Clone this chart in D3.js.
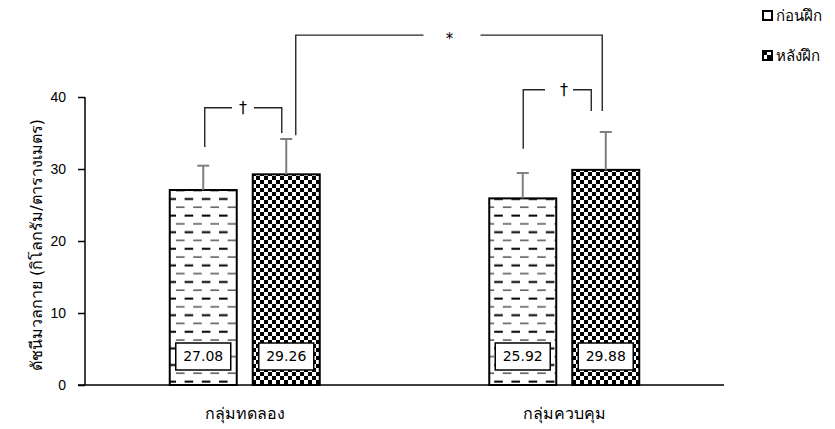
<!DOCTYPE html>
<html lang="th">
<head>
  <meta charset="UTF-8" />
  <title>ดัชนีมวลกาย</title>
  <style>
    body {
      margin: 0;
      background: white;
      font-family: Tahoma, "DejaVu Sans", sans-serif;
    }
    svg { display: block; }
    .tick-label, .bar-label {
      font-size: 14px;
      fill: #000;
    }
    .group-label, .y-title {
      font-size: 16px;
      fill: #000;
    }
    .legend-label {
      font-size: 15px;
      fill: #000;
    }
  </style>
</head>
<body>
  <svg width="835" height="429"></svg>

  <script src="https://d3js.org/d3.v7.min.js"></script>
  <script>
    // data
    const groups = ["กลุ่มทดลอง", "กลุ่มควบคุม"];
    const series = ["ก่อนฝึก", "หลังฝึก"];
    const means = [[27.08, 29.26], [25.92, 29.88]];
    const sds = [[3.38, 4.91], [3.52, 5.26]];
    const yTicks = [0, 10, 20, 30, 40];
    const yTitle = "ดัชนีมวลกาย (กิโลกรัม/ตารางเมตร)";

    // significance brackets: from bar -> to bar, heights in data units
    const brackets = [
      { from: [0, 0], to: [0, 1], top: 38.5, footL: 33.05, footR: 35.0, label: "†" },
      { from: [1, 0], to: [1, 1], top: 41.0, footL: 32.8, footR: 38.05, label: "†" },
      { from: [0, 1], to: [1, 1], top: 48.6, footL: 34.7, footR: 38.05, label: "*" }
    ];
    // pixel nudges for bracket ends and the gap around the label
    const bracketLayout = [
      { dl: 1.5, dr: -4.5, gapL: 11, gapR: 11, lx: 243 },
      { dl: 0.5, dr: -14.5, gapL: 19, gapR: 9, lx: 564 },
      { dl: 9.5, dr: -3.5, gapL: 26, gapR: 31, lx: 449.5 }
    ];

    const svg = d3.select("svg");
    const defs = svg.append("defs");

    // dashed horizontal pattern
    const dash = defs.append("pattern")
      .attr("id", "dash")
      .attr("patternUnits", "userSpaceOnUse")
      .attr("x", 4).attr("y", 4)
      .attr("width", 17.2).attr("height", 16.6);
    dash.append("rect").attr("width", 17.2).attr("height", 16.6).attr("fill", "#fff");
    dash.append("rect").attr("x", 0).attr("y", 3.5).attr("width", 8.6).attr("height", 1).attr("fill", "#000");
    dash.append("rect").attr("x", 8.6).attr("y", 11.4).attr("width", 8.6).attr("height", 2).attr("fill", "#000");

    // checker pattern
    const check = defs.append("pattern")
      .attr("id", "check")
      .attr("patternUnits", "userSpaceOnUse")
      .attr("width", 8).attr("height", 8);
    check.append("rect").attr("width", 8).attr("height", 8).attr("fill", "#fff");
    check.append("rect").attr("width", 4).attr("height", 4).attr("fill", "#000");
    check.append("rect").attr("x", 4).attr("y", 4).attr("width", 4).attr("height", 4).attr("fill", "#000");

    const fills = ["url(#dash)", "url(#check)"];

    const x0 = d3.scaleBand().domain(groups).range([85, 724]);
    const inner = 150;
    const x1 = d3.scaleBand().domain(series)
      .range([(x0.bandwidth() - inner) / 2, (x0.bandwidth() + inner) / 2])
      .paddingInner(0.193);
    const y = d3.scaleLinear().domain([0, 40]).range([385, 97]);

    const barX = (g, s) => x0(groups[g]) + x1(series[s]);
    const barC = (g, s) => barX(g, s) + x1.bandwidth() / 2;

    const rows = [];
    groups.forEach((g, gi) => series.forEach((s, si) => {
      rows.push({ gi, si, mean: means[gi][si], sd: sds[gi][si] });
    }));

    // bars
    svg.append("g")
      .selectAll("rect")
      .data(rows)
      .join("rect")
        .attr("x", d => barX(d.gi, d.si))
        .attr("y", d => y(d.mean))
        .attr("width", x1.bandwidth())
        .attr("height", d => y(0) - y(d.mean))
        .attr("fill", d => fills[d.si])
        .attr("stroke", "#000")
        .attr("stroke-width", 2);

    // error bars
    const err = svg.append("g")
      .attr("stroke", "#7f7f7f")
      .attr("stroke-width", 2);
    err.selectAll("line.v")
      .data(rows)
      .join("line")
        .attr("class", "v")
        .attr("x1", d => barC(d.gi, d.si))
        .attr("x2", d => barC(d.gi, d.si))
        .attr("y1", d => y(d.mean))
        .attr("y2", d => y(d.mean + d.sd));
    err.selectAll("line.cap")
      .data(rows)
      .join("line")
        .attr("class", "cap")
        .attr("x1", d => barC(d.gi, d.si) - 6)
        .attr("x2", d => barC(d.gi, d.si) + 6)
        .attr("y1", d => y(d.mean + d.sd))
        .attr("y2", d => y(d.mean + d.sd));

    // value labels
    const lab = svg.append("g")
      .selectAll("g")
      .data(rows)
      .join("g");
    lab.append("rect")
      .attr("x", d => barX(d.gi, d.si) + 6)
      .attr("y", y(0) - 42)
      .attr("width", x1.bandwidth() - 12)
      .attr("height", 27)
      .attr("fill", "#fff")
      .attr("stroke", "#000")
      .attr("stroke-width", 1.5);
    lab.append("text")
      .attr("class", "bar-label")
      .attr("x", d => barC(d.gi, d.si))
      .attr("y", y(0) - 28.5)
      .attr("dy", "0.35em")
      .attr("text-anchor", "middle")
      .text(d => d.mean.toFixed(2));

    // axes
    const yAxis = svg.append("g")
      .attr("transform", "translate(85,0)")
      .call(d3.axisLeft(y).tickValues(yTicks).tickSize(7).tickPadding(12));
    yAxis.select(".domain").attr("stroke", "#000").attr("stroke-width", 1.5).attr("d", `M0,${y(40)}V${y(0)}`);
    yAxis.selectAll(".tick line").attr("stroke", "#000").attr("stroke-width", 1.5);
    yAxis.selectAll(".tick text").attr("class", "tick-label").attr("font-family", null).attr("font-size", null);

    svg.append("line")
      .attr("x1", 78).attr("x2", 724)
      .attr("y1", y(0)).attr("y2", y(0))
      .attr("stroke", "#000").attr("stroke-width", 1.5);

    svg.append("g")
      .selectAll("text")
      .data(groups)
      .join("text")
        .attr("class", "group-label")
        .attr("x", d => x0(d) + x0.bandwidth() / 2)
        .attr("y", 419)
        .attr("text-anchor", "middle")
        .text(d => d);

    svg.append("text")
      .attr("class", "y-title")
      .attr("transform", `translate(42,${(y(0) + y(40)) / 2 + 4}) rotate(-90)`)
      .attr("text-anchor", "middle")
      .text(yTitle);

    // brackets
    const br = svg.append("g")
      .attr("fill", "none")
      .attr("stroke", "#262626")
      .attr("stroke-width", 1.4);
    brackets.forEach((b, i) => {
      const L = bracketLayout[i];
      const xl = barC(b.from[0], b.from[1]) + L.dl;
      const xr = barC(b.to[0], b.to[1]) + L.dr;
      const yt = y(b.top);
      br.append("path").attr("d", `M${xl},${y(b.footL)}V${yt}H${L.lx - L.gapL}`);
      br.append("path").attr("d", `M${L.lx + L.gapR},${yt}H${xr}V${y(b.footR)}`);
      svg.append("text")
        .attr("x", L.lx)
        .attr("y", yt + (b.label === "*" ? 9 : 5))
        .attr("text-anchor", "middle")
        .attr("font-size", b.label === "*" ? 15 : 16)
        .text(b.label);
    });

    // legend
    const leg = svg.append("g")
      .selectAll("g")
      .data(series)
      .join("g")
        .attr("transform", (d, i) => `translate(763,${11 + i * 40})`);
    leg.append("rect")
      .attr("width", 9).attr("height", 9)
      .attr("fill", (d, i) => i === 0 ? "#fff" : "url(#check)")
      .attr("stroke", "#000")
      .attr("stroke-width", 2);
    leg.append("text")
      .attr("class", "legend-label")
      .attr("x", 13)
      .attr("y", 5)
      .attr("dy", "0.35em")
      .text(d => d);
  </script>
</body>
</html>
